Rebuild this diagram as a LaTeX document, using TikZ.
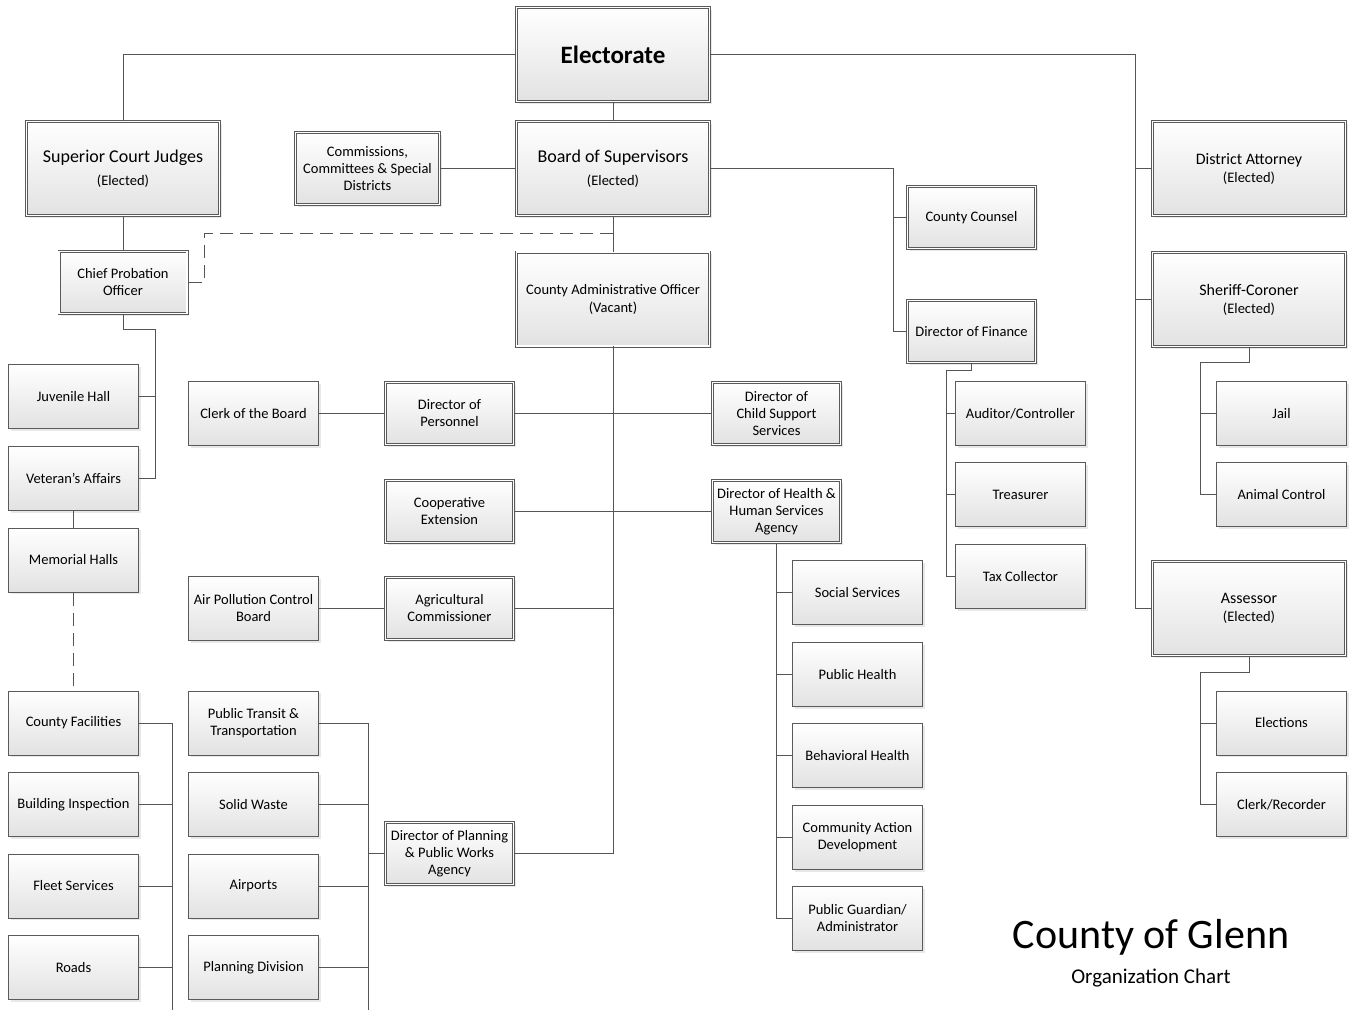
\documentclass[tikz,border=0pt]{standalone}
\usepackage{fontspec}
\setmainfont{Carlito}
\usetikzlibrary{calc, shadows, positioning}
\definecolor{ln}{HTML}{555555}
\definecolor{bx}{HTML}{5a5a5a}
\definecolor{sh}{HTML}{e2e2e2}
\newcommand{\elnote}[1]{{\fontsize{14.5}{17}\selectfont #1}}

\begin{document}
\begin{tikzpicture}[x=1pt, y=-1pt,
	unit/.style={shape=rectangle, draw=bx, line width=1pt, top color=white, bottom color=sh, drop shadow={shadow xshift=2pt, shadow yshift=-2pt, fill=black!18}, align=center, inner sep=1pt, minimum width=130pt, minimum height=64pt, font=\fontsize{14.5}{17}\selectfont},
	head/.style={unit, double=white, double distance=1.4pt, line width=0.8pt, minimum width=128pt, minimum height=62pt},
	wide/.style={head, minimum width=193pt, minimum height=94pt},
	bigtext/.style={font=\fontsize{18}{23}\selectfont},
	midtext/.style={font=\fontsize{16}{18}\selectfont},
	link/.style={draw=ln, line width=1pt},
	dlink/.style={link, dash pattern=on 13pt off 7pt}]
	
	\useasboundingbox (0,0) rectangle (1353,1010);
	
	% top row
	\node[wide, font=\fontsize{25}{30}\selectfont] (elec) at (613,54.5) {\textbf{Electorate}};
	\node[wide, bigtext] (scj) at (123,168.5) {Superior Court Judges\\\elnote{(Elected)}};
	\node[head, minimum width=144pt, minimum height=72pt] (ccsd) at (367.5,168.5) {Commissions,\\Committees \& Special\\Districts};
	\node[wide, bigtext] (bos) at (613,168.5) {Board of Supervisors\\\elnote{(Elected)}};
	\node[wide, midtext] (da) at (1249,168.5) {District Attorney\\\elnote{(Elected)}};
	\node[head] (cc) at (971.5,217.5) {County Counsel};
	\node[head] (cpo) at (123,282.5) {Chief Probation\\Officer};
	\node[wide, font=\fontsize{14.5}{18}\selectfont] (cao) at (613,299) {County Administrative Officer\\(Vacant)};
	\node[wide, midtext] (shc) at (1249,299.5) {Sheriff-Coroner\\\elnote{(Elected)}};
	\node[head] (dof) at (971.5,331.5) {Director of Finance};
	\node[wide, midtext] (asr) at (1249,608.5) {Assessor\\\elnote{(Elected)}};
	
	% unit columns
	\foreach \n/\y/\t in {jh/396.5/Juvenile Hall, va/478.5/Veteran's Affairs, mh/560/Memorial Halls, cf/723/County Facilities, bi/804.5/Building Inspection, fs/886/Fleet Services, rd/967.5/Roads}{
		\node[unit] (\n) at (73.5,\y) {\t};
	};
	\foreach \n/\y/\t in {cob/413.5/Clerk of the Board, apc/608.5/Air Pollution Control\\Board, ptt/723/Public Transit \&\\Transportation, sw/804.5/Solid Waste, ap/886/Airports, pd/967.5/Planning Division}{
		\node[unit] (\n) at (253.5,\y) {\t};
	};
	\foreach \n/\y/\t in {dop/413.5/Director of\\Personnel, coop/511.5/Cooperative\\Extension, agc/608.5/Agricultural\\Commissioner, dpw/853.5/Director of Planning\\\& Public Works\\Agency}{
		\node[head] (\n) at (449.5,\y) {\t};
	};
	\node[head] (dcss) at (776.5,413.5) {Director of\\Child Support\\Services};
	\node[head] (hhs) at (776.5,511.5) {Director of Health \&\\Human Services\\Agency};
	\foreach \n/\y/\t in {ss/592.5/Social Services, ph/674.5/Public Health, bh/755.5/Behavioral Health, cad/837.5/Community Action\\Development, pga/918.5/{Public Guardian/\\Administrator}}{
		\node[unit] (\n) at (857.5,\y) {\t};
	};
	\foreach \n/\y/\t in {aud/413.5/{Auditor/Controller}, tre/494.5/Treasurer, tax/576.5/Tax Collector}{
		\node[unit] (\n) at (1020.5,\y) {\t};
	};
	\foreach \n/\y/\t in {jail/413.5/Jail, anc/494.5/Animal Control, ele/723/Elections, clr/804.5/{Clerk/Recorder}}{
		\node[unit] (\n) at (1281.5,\y) {\t};
	};
	
	% title
	\node[font=\fontsize{42}{48}\selectfont, inner sep=0pt] (ttl) at (1151,937) {County of Glenn};
	\node[font=\fontsize{21}{24}\selectfont, inner sep=0pt, below=14pt of ttl] (sub) {Organization Chart};
	
	% bus lines
	\coordinate (rbus) at (1135,0);
	\coordinate (bbus) at (893,0);
	\coordinate (pbus) at (155,0);
	\coordinate (dbus) at (204,0);
	\coordinate (fbus) at (172,1012);
	\coordinate (wbus) at (368,1012);
	\coordinate (nbus) at (946,0);
	\coordinate (sbus) at (1200,0);
	
	\draw[link] (elec.west) -| (scj.north);
	\draw[link] (elec.east) -| (rbus |- asr.west) -- (asr.west);
	\foreach \n in {da, shc}{
		\draw[link] (\n.west) -- (\n.west -| rbus);
	};
	\draw[link] (elec.south) -- (bos.north);
	\draw[link] (ccsd.east) -- (bos.west);
	\draw[link] (bos.east) -| (bbus |- dof.west) -- (dof.west);
	\draw[link] (cc.west) -- (cc.west -| bbus);
	\draw[link] (bos.south) -- (cao.north);
	\coordinate (dj) at ($(bos.south)!.5!(cao.north)$);
	\draw[dlink] (dj) -| (dbus |- cpo.east) -- (cpo.east);
	
	\draw[link] (scj.south) -- (cpo.north);
	\draw[link] (cpo.south) -- ++(0,16) -| (pbus |- va.east) -- (va.east);
	\draw[link] (jh.east) -- (jh.east -| pbus);
	\draw[link] (va.south) -- (mh.north);
	\draw[dlink] (mh.south) -- (cf.north);
	\draw[link] (cf.east) -| (fbus);
	\foreach \n in {bi, fs, rd}{
		\draw[link] (\n.east) -- (\n.east -| fbus);
	};
	\draw[link] (ptt.east) -| (wbus);
	\foreach \n in {sw, ap, pd}{
		\draw[link] (\n.east) -- (\n.east -| wbus);
	};
	\draw[link] (dpw.west) -- (dpw.west -| wbus);
	
	\draw[link] (cao.south) |- (dpw.east);
	\draw[link] (dop.east) -- (dcss.west);
	\draw[link] (coop.east) -- (hhs.west);
	\draw[link] (agc.east) -- (agc.east -| cao.south);
	\draw[link] (cob.east) -- (dop.west);
	\draw[link] (apc.east) -- (agc.west);
	
	\draw[link] (hhs.south) |- (pga.west);
	\foreach \n in {ss, ph, bh, cad}{
		\draw[link] (\n.west) -- (\n.west -| hhs.south);
	};
	\draw[link] (dof.south) -- ++(0,8) -| (nbus |- tax.west) -- (tax.west);
	\foreach \n in {aud, tre}{
		\draw[link] (\n.west) -- (\n.west -| nbus);
	};
	\draw[link] (shc.south) -- ++(0,16) -| (sbus |- anc.west) -- (anc.west);
	\draw[link] (jail.west) -- (jail.west -| sbus);
	\draw[link] (asr.south) -- ++(0,17) -| (sbus |- clr.west) -- (clr.west);
	\draw[link] (ele.west) -- (ele.west -| sbus);
	
\end{tikzpicture}
\end{document}
